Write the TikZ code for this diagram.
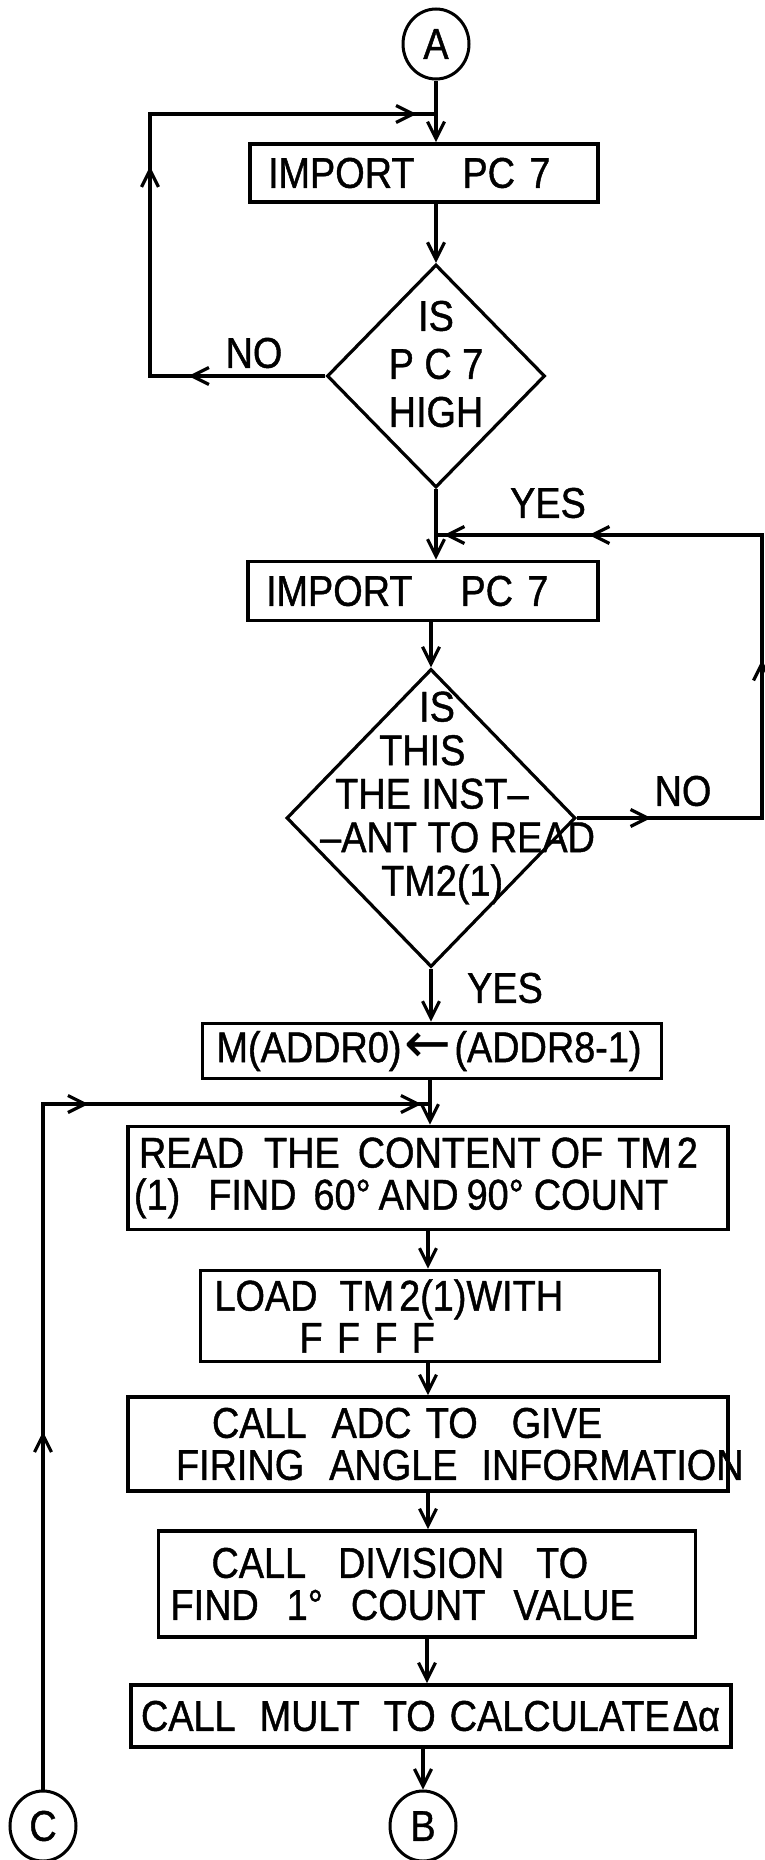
\documentclass[tikz,border=0pt]{standalone}
\usepackage{fontspec}
\setmainfont{Liberation Sans}[FakeStretch=0.88, FakeBold=1]
\newfontfamily\arrowglyph{DejaVu Sans}
\usetikzlibrary{shapes.geometric, arrows.meta, decorations.markings}

\tikzset{
  flowtip/.tip={Straight Barb[length=17pt,width=17pt]},
}

\begin{document}
\begin{tikzpicture}[
  x=1pt, y=-1pt,
  every node/.style={font=\fontsize{43}{42}\selectfont},
  flow/.style={line width=3.2pt},
  arr/.style={flow, -flowtip},
  tipat/.style={postaction={decorate, decoration={markings, mark=at position #1 with {\arrow{flowtip}}}}},
  stepbox/.style={draw, line width=3.6pt, align=left, inner xsep=0pt, inner ysep=0pt},
  decision/.style={draw, diamond, line width=3.2pt, inner sep=0pt},
  conn/.style={draw, ellipse, line width=3pt, minimum width=66pt, minimum height=70pt, inner sep=0pt},
  lbl/.style={inner sep=0pt, align=center},
]
  \useasboundingbox (0,0) rectangle (765,1860);

  % connectors and boxes
  \node[conn] (conA) at (436,44) {A};
  \node[stepbox, text width=348pt, minimum height=58pt] (imp1) at (424,173) {\hspace*{18pt}IMPORT\hspace{48pt}PC 7};
  \node[decision, minimum width=218pt, minimum height=223pt] (high) at (436,376) {};
  \node[lbl, font=\fontsize{43}{48}\selectfont] (hight) at (436,364) {IS\\P C 7\\HIGH};
  \node[stepbox, text width=350pt, minimum height=59pt] (imp2) at (423,591) {\hspace*{18pt}IMPORT\hspace{48pt}PC 7};
  \node[decision, minimum width=289pt, minimum height=298pt] (instant) at (431,818) {};
  \node[lbl, align=left, anchor=west, font=\fontsize{43}{43.5}\selectfont] (instantt) at (320,798)
    {\hspace*{99pt}IS\\\hspace*{59pt}THIS\\\hspace*{15pt}THE INST–\\–ANT TO READ\\\hspace*{61pt}TM2(1)};
  \node[stepbox, text width=459pt, minimum height=55pt] (addr) at (432,1051)
    {\hspace*{14pt}\mbox{M(ADDR0)\hspace{3pt}{\arrowglyph\fontsize{56}{42}\selectfont ←}\hspace{3pt}(ADDR8-1)}};
  \node[stepbox, text width=600pt, minimum height=103pt] (readtm) at (428,1178)
    {\hspace*{11pt}\mbox{READ\hspace{20pt}THE\hspace{18pt}CONTENT\hspace{10pt}OF\hspace{14pt}TM\hspace{5pt}2}\\
     \hspace*{6pt}\mbox{(1)\hspace{28pt}FIND\hspace{17pt}60°\hspace{8pt}AND\hspace{8pt}90°\hspace{10pt}COUNT}};
  \node[stepbox, text width=459pt, minimum height=91pt] (loadtm) at (430,1316)
    {\hspace*{14pt}\mbox{LOAD\hspace{22pt}TM\hspace{5pt}2(1)WITH}\\\hspace*{99pt}F F F F};
  \node[stepbox, text width=600pt, minimum height=94pt] (adc) at (428,1444)
    {\hspace*{84pt}\mbox{CALL\hspace{25pt}ADC TO\hspace{34pt}GIVE}\\\hspace*{48pt}\mbox{FIRING\hspace{25pt}ANGLE\hspace{24pt}INFORMATION}};
  \node[stepbox, text width=537pt, minimum height=106pt] (divide) at (427,1584)
    {\hspace*{53pt}\mbox{CALL\hspace{32pt}DIVISION\hspace{32pt}TO}\\\hspace*{12pt}\mbox{FIND\hspace{28pt}1°\hspace{28pt}COUNT\hspace{28pt}VALUE}};
  \node[stepbox, text width=600pt, minimum height=62pt] (mult) at (431,1716)
    {\hspace*{10pt}\mbox{CALL\hspace{24pt}MULT\hspace{24pt}TO\hspace{14pt}CALCULATE\hspace{3pt}Δα}};
  \node[conn] (conB) at (423,1826) {B};
  \node[conn] (conC) at (43,1826) {C};

  % branch labels
  \node[lbl] (no1) at (254,353) {NO};
  \node[lbl] (yes1) at (548,503) {YES};
  \node[lbl] (no2) at (683,791) {NO};
  \node[lbl] (yes2) at (505,988) {YES};

  % loop corners
  \coordinate (j1) at (436,114);
  \coordinate (nocorner1) at (150,376);
  \coordinate (upcorner1) at (150,114);
  \coordinate (j2) at (436,535);
  \coordinate (nocorner2) at (762,818);
  \coordinate (upcorner2) at (762,535);
  \coordinate (j3) at (430,1104);
  \coordinate (upcorner3) at (43,1104);

  % main flow
  \draw[arr] (conA) -- (imp1.north -| conA);
  \draw[arr] (imp1.south -| high.north) -- (high.north);
  \draw[arr] (high.south) -- (imp2.north -| high.south);
  \draw[arr] (imp2.south -| instant.north) -- (instant.north);
  \draw[arr] (instant.south) -- (addr.north -| instant.south);
  \draw[arr] (addr.south -| j3) -- (readtm.north -| j3);
  \draw[arr] (readtm.south) -- (loadtm.north -| readtm.south);
  \draw[arr] (loadtm.south -| adc.north) -- (adc.north);
  \draw[arr] (adc.south) -- (divide.north -| adc.south);
  \draw[arr] (divide.south) -- (mult.north -| divide.south);
  \draw[arr] (mult.south -| conB) -- (conB);

  % loops
  \draw[flow, tipat=137pt, tipat=385pt, tipat=704pt] (high.west) -- (nocorner1) -- (upcorner1) -- (j1);
  \draw[flow, tipat=74pt, tipat=343pt, tipat=641pt, tipat=786pt] (instant.east) -- (nocorner2) -- (upcorner2) -- (j2);
  \draw[flow, tipat=358pt, tipat=731pt, tipat=1064pt] (conC) -- (upcorner3) -- (j3);
\end{tikzpicture}
\end{document}
